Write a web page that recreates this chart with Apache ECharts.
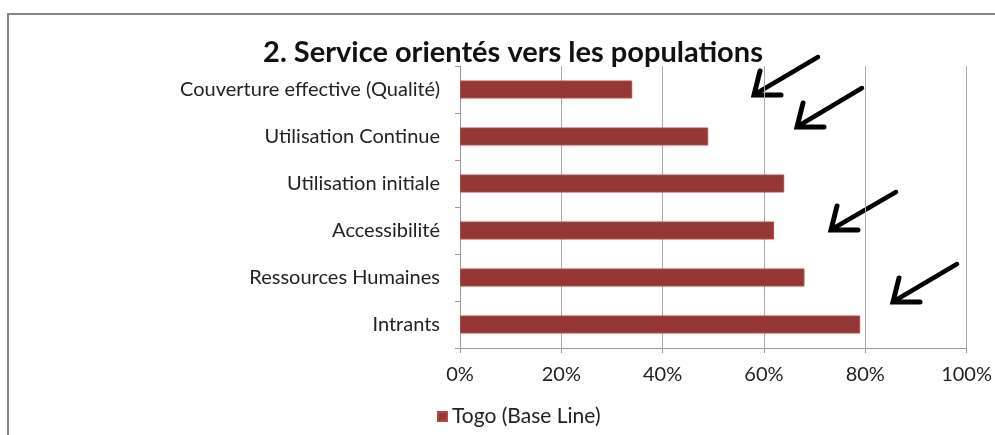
<!DOCTYPE html>
<html>
<head>
<meta charset="utf-8">
<script src="https://cdn.jsdelivr.net/npm/echarts@6/dist/echarts.min.js"></script>
<style>
  html, body { margin: 0; padding: 0; background: #fff; }
  #chart { width: 995px; height: 435px; }
</style>
</head>
<body>
<div id="chart"></div>
<script>
// Indicator categories, top to bottom
const categories = [
  'Couverture effective (Qualité)',
  'Utilisation Continue',
  'Utilisation initiale',
  'Accessibilité',
  'Ressources Humaines',
  'Intrants'
];
// Baseline scores (share of 1)
const togoBaseLine = [0.34, 0.49, 0.64, 0.62, 0.68, 0.79];
const seriesName = 'Togo (Base Line)';
const titleText = '2. Service orientés vers les populations';
const xTicks = [0, 0.2, 0.4, 0.6, 0.8, 1];

const FONT = 'Lato, "Open Sans", sans-serif';
const barColor = '#953735';

// Hand-drawn style annotation arrows: [tailX, tailY, tipX, tipY]
const arrows = [
  [818, 57, 754, 95],
  [862, 88, 797, 127],
  [896, 192, 831, 230],
  [957, 264, 893, 302]
];

function arrowGraphics() {
  const out = [];
  arrows.forEach(([tx, ty, hx, hy]) => {
    out.push({
      type: 'line',
      shape: { x1: tx, y1: ty, x2: hx + 3, y2: hy - 2 },
      style: { stroke: '#000', lineWidth: 4.5, lineCap: 'round' }
    });
    out.push({
      type: 'polyline',
      shape: { points: [[hx + 6, hy - 24], [hx, hy], [hx + 27, hy]] },
      style: { stroke: '#000', lineWidth: 5, fill: null, lineJoin: 'miter', lineCap: 'round' }
    });
  });
  return out;
}

const chart = echarts.init(document.getElementById('chart'), null, { renderer: 'canvas' });
chart.setOption({
  backgroundColor: '#fff',
  animation: false,
  title: {
    text: titleText,
    left: 508,
    textAlign: 'center',
    top: 33,
    textStyle: { fontFamily: FONT, fontSize: 29, fontWeight: 'bold', color: '#111' }
  },
  legend: {
    data: [seriesName],
    left: 432,
    top: 401,
    icon: 'rect',
    itemWidth: 9,
    itemHeight: 9,
    textStyle: { fontFamily: FONT, fontSize: 21, color: '#222' }
  },
  grid: { left: 460, right: 28, top: 66, bottom: 87, containLabel: false },
  xAxis: {
    type: 'value',
    min: xTicks[0],
    max: xTicks[xTicks.length - 1],
    interval: xTicks[1] - xTicks[0],
    axisLine: { show: true, lineStyle: { color: '#999' } },
    axisTick: { show: true, length: 5, lineStyle: { color: '#999' } },
    splitLine: { show: true, lineStyle: { color: '#aaa', width: 1 } },
    axisLabel: {
      margin: 17,
      fontFamily: FONT,
      fontSize: 20,
      color: '#222',
      formatter: v => Math.round(v * 100) + '%'
    }
  },
  yAxis: {
    type: 'category',
    inverse: true,
    data: categories,
    axisLine: { show: true, lineStyle: { color: '#999' } },
    axisTick: { show: true, length: 5, lineStyle: { color: '#999' } },
    axisLabel: { margin: 20, fontFamily: FONT, fontSize: 20, color: '#222' }
  },
  series: [{
    name: seriesName,
    type: 'bar',
    data: togoBaseLine,
    barWidth: 18,
    itemStyle: { color: barColor, borderColor: '#b04a47', borderWidth: 1 }
  }],
  graphic: [
    {
      type: 'rect',
      shape: { x: 8, y: 14, width: 1000, height: 440 },
      style: { fill: null, stroke: '#858585', lineWidth: 2 },
      z: -1
    }
  ].concat(arrowGraphics())
});
</script>
</body>
</html>
